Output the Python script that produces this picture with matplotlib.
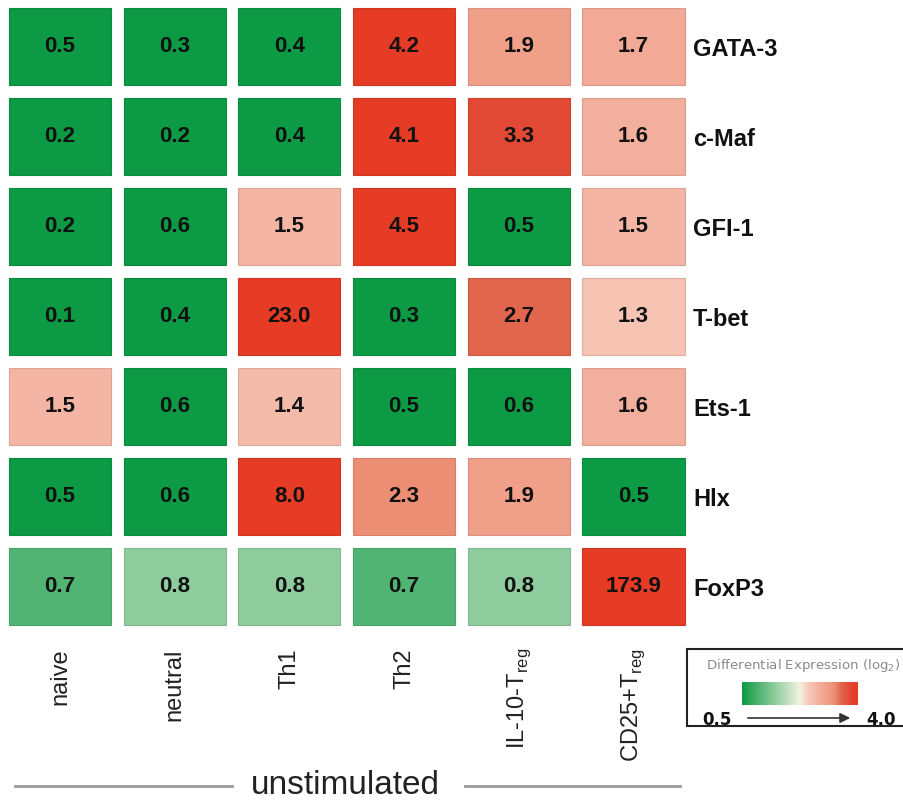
import numpy as np
import matplotlib
matplotlib.use("Agg")
import matplotlib.pyplot as plt
from matplotlib.colors import LinearSegmentedColormap, TwoSlopeNorm, to_rgb
from matplotlib.patches import Rectangle, FancyArrowPatch

genes = ["GATA-3", "c-Maf", "GFI-1", "T-bet", "Ets-1", "Hlx", "FoxP3"]
cell_types = ["naive", "neutral", "Th1", "Th2",
              "IL-10-T$_{\\mathregular{reg}}$", "CD25+T$_{\\mathregular{reg}}$"]
gata3 = [0.5, 0.3, 0.4, 4.2, 1.9, 1.7]
cmaf = [0.2, 0.2, 0.4, 4.1, 3.3, 1.6]
gfi1 = [0.2, 0.6, 1.5, 4.5, 0.5, 1.5]
tbet = [0.1, 0.4, 23.0, 0.3, 2.7, 1.3]
ets1 = [1.5, 0.6, 1.4, 0.5, 0.6, 1.6]
hlx = [0.5, 0.6, 8.0, 2.3, 1.9, 0.5]
foxp3 = [0.7, 0.8, 0.8, 0.7, 0.8, 173.9]
values = np.array([gata3, cmaf, gfi1, tbet, ets1, hlx, foxp3])
legend_lo, legend_hi = 0.5, 4.0

plt.rcParams["font.family"] = ["Liberation Sans", "DejaVu Sans"]

cmap = LinearSegmentedColormap.from_list("diffexp", [
    (0.0, "#0c9a44"), (0.5, "#f4f2e2"), (0.57, "#f8cab9"), (0.65, "#f4b4a3"),
    (0.73, "#f0a08a"), (0.80, "#ec8e74"), (0.86, "#e2644c"), (0.93, "#e24a35"),
    (1.0, "#e63b25")])
norm = TwoSlopeNorm(vmin=np.log2(0.6), vcenter=0.0, vmax=2.0)

W, H = 904, 801
fig = plt.figure(figsize=(W / 100, H / 100), dpi=100)
ax = fig.add_axes([2.65 / W, 1 - 631.5 / H, 688.2 / W, 630 / H])
nrow, ncol = values.shape
ax.set_xlim(0, ncol)
ax.set_ylim(nrow, 0)
gx, gy = 0.11, 0.144
for i in range(nrow):
    for j in range(ncol):
        v = values[i, j]
        fc = cmap(norm(np.log2(v)))
        ec = tuple(np.array(to_rgb(fc)) * 0.9)
        ax.add_patch(Rectangle((j + gx / 2, i + gy / 2), 1 - gx, 1 - gy,
                               facecolor=fc, edgecolor=ec, linewidth=0.8))
        ax.text(j + 0.5, i + 0.5, f"{v:.1f}", ha="center", va="center",
                fontsize=16, fontweight="bold", color="#111111")
for s in ax.spines.values():
    s.set_visible(False)
ax.set_xticks(np.arange(ncol) + 0.5)
ax.set_xticklabels(cell_types, rotation=90, fontsize=17, va="top", color="#222222")
ax.tick_params(axis="x", length=0, pad=12)
ax.yaxis.tick_right()
ax.set_yticks(np.arange(nrow) + 0.5)
ax.set_yticklabels(genes, fontsize=17, fontweight="bold", color="#111111")
ax.tick_params(axis="y", length=0, pad=1.5)

# group label
fig.text(345 / W, 1 - 786 / H, "unstimulated", ha="center", va="center",
         fontsize=24, color="#222222")
fig.add_artist(plt.Line2D([15 / W, 232 / W], [1 - 786 / H] * 2, color="#9a9a9a", lw=2))
fig.add_artist(plt.Line2D([465 / W, 680 / W], [1 - 786 / H] * 2, color="#9a9a9a", lw=2))

# legend box
box = Rectangle((687 / W, 1 - 726 / H), 240 / W, 77 / H, transform=fig.transFigure,
                facecolor="white", edgecolor="#222222", linewidth=1.5, zorder=-1)
fig.add_artist(box)
fig.text(706 / W, 1 - 665 / H, "Differential Expression (log$_{\\mathregular{2}}$)",
         ha="left", va="center", fontsize=9.6, color="#8a8a8a", family="DejaVu Sans")
cax = fig.add_axes([742 / W, 1 - 705 / H, 116 / W, 23 / H])
cax.set_zorder(3)
grad = np.linspace(0, 1, 256)[None, :]
cax.imshow(grad, aspect="auto", cmap=cmap, vmin=0, vmax=1)
cax.set_axis_off()
fig.text(717 / W, 1 - 720 / H, f"{legend_lo:.1f}", ha="center", va="center",
         fontsize=12, fontweight="bold", family="DejaVu Sans", color="#111111")
fig.text(881 / W, 1 - 720 / H, f"{legend_hi:.1f}", ha="center", va="center",
         fontsize=12, fontweight="bold", family="DejaVu Sans", color="#111111")
fig.add_artist(FancyArrowPatch(
    (745 / W, 1 - 718 / H), (853 / W, 1 - 718 / H), transform=fig.transFigure,
    arrowstyle="-|>,head_length=6,head_width=3", color="#333333", lw=1.2))

fig.savefig("out.png", dpi=100, facecolor="white")
